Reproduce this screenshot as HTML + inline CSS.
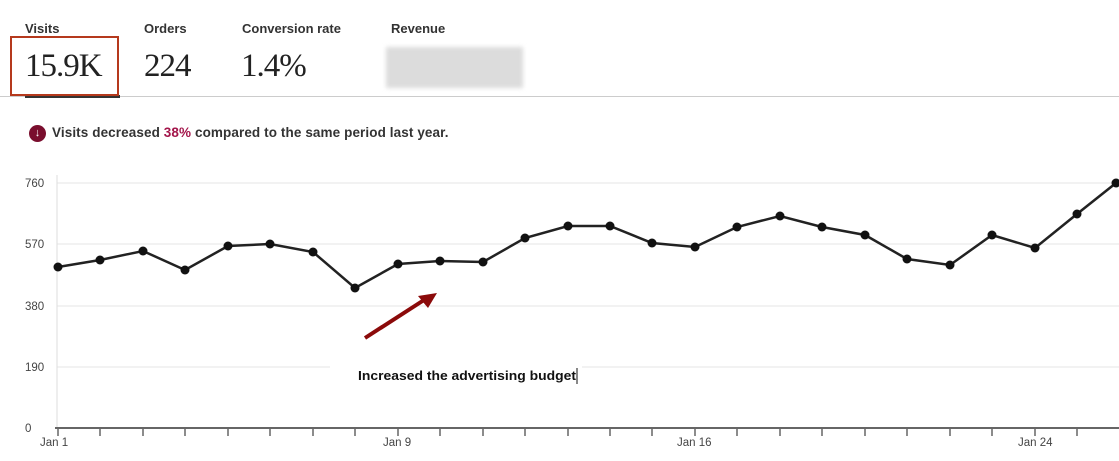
<!DOCTYPE html>
<html><head><meta charset="utf-8"><style>
body{margin:0;width:1119px;height:461px;background:#fff;overflow:hidden;position:relative;font-family:"Liberation Sans",sans-serif}
.l{position:absolute;top:21px;font-size:13px;font-weight:bold;color:#333}
.v{position:absolute;top:48px;font-family:"Liberation Serif",serif;font-size:33px;color:#222;letter-spacing:-1px}
</style></head><body>
<div class="l" style="left:25px">Visits</div>
<div class="l" style="left:144px">Orders</div>
<div class="l" style="left:242px">Conversion rate</div>
<div class="l" style="left:391px">Revenue</div>
<div class="v" style="left:25px">15.9K</div>
<div class="v" style="left:144px">224</div>
<div class="v" style="left:241px">1.4%</div>
<div style="position:absolute;left:386px;top:47px;width:137px;height:41px;background:#dcdcdc;filter:blur(2px)"></div>
<div style="position:absolute;left:0;top:96px;width:1119px;height:1px;background:#ccc"></div>
<div style="position:absolute;left:25px;top:95px;width:95px;height:3px;background:#333"></div>
<div style="position:absolute;left:10px;top:36px;width:105px;height:56px;border:2px solid #b5391d"></div>
<div style="position:absolute;left:29px;top:125px;width:17px;height:17px;border-radius:50%;background:#7a0e2e;color:#fff;font-size:11px;text-align:center;line-height:17px">↓</div>
<div style="position:absolute;left:52px;top:125px;font-size:13.5px;font-weight:bold;color:#333;letter-spacing:0.1px">Visits decreased <span style="color:#a3154a">38%</span> compared to the same period last year.</div>
<svg width="1119" height="461" style="position:absolute;left:0;top:0" font-family="Liberation Sans" font-size="11.5" fill="#444">
<g stroke="#e6e6e6" stroke-width="1">
<line x1="57" y1="183" x2="1119" y2="183"/><line x1="57" y1="244" x2="1119" y2="244"/><line x1="57" y1="306" x2="1119" y2="306"/><line x1="57" y1="367" x2="1119" y2="367"/>
</g>
<line x1="57" y1="175" x2="57" y2="428" stroke="#ddd"/>
<text x="25" y="187">760</text><text x="25" y="248">570</text><text x="25" y="310">380</text><text x="25" y="371">190</text><text x="25" y="432">0</text>
<line x1="55" y1="428" x2="1119" y2="428" stroke="#666" stroke-width="2"/>
<text x="40" y="446">Jan 1</text><text x="383" y="446">Jan 9</text><text x="677" y="446">Jan 16</text><text x="1018" y="446">Jan 24</text>
<polyline fill="none" stroke="#222" stroke-width="2.5" points="58,267 100,260 143,251 185,270 228,246 270,244 313,252 355,288 398,264 440,261 483,262 525,238 568,226 610,226 652,243 695,247 737,227 780,216 822,227 865,235 907,259 950,265 992,235 1035,248 1077,214 1116,183"/>
<g fill="#111">
<circle cx="58" cy="267" r="4.5"/><circle cx="100" cy="260" r="4.5"/><circle cx="143" cy="251" r="4.5"/><circle cx="185" cy="270" r="4.5"/><circle cx="228" cy="246" r="4.5"/><circle cx="270" cy="244" r="4.5"/><circle cx="313" cy="252" r="4.5"/><circle cx="355" cy="288" r="4.5"/><circle cx="398" cy="264" r="4.5"/><circle cx="440" cy="261" r="4.5"/><circle cx="483" cy="262" r="4.5"/><circle cx="525" cy="238" r="4.5"/><circle cx="568" cy="226" r="4.5"/><circle cx="610" cy="226" r="4.5"/><circle cx="652" cy="243" r="4.5"/><circle cx="695" cy="247" r="4.5"/><circle cx="737" cy="227" r="4.5"/><circle cx="780" cy="216" r="4.5"/><circle cx="822" cy="227" r="4.5"/><circle cx="865" cy="235" r="4.5"/><circle cx="907" cy="259" r="4.5"/><circle cx="950" cy="265" r="4.5"/><circle cx="992" cy="235" r="4.5"/><circle cx="1035" cy="248" r="4.5"/><circle cx="1077" cy="214" r="4.5"/><circle cx="1116" cy="183" r="4.5"/>
</g>
<g stroke="#666" stroke-width="1.5">
<line x1="58" y1="428" x2="58" y2="436"/><line x1="100" y1="428" x2="100" y2="436"/><line x1="143" y1="428" x2="143" y2="436"/><line x1="185" y1="428" x2="185" y2="436"/><line x1="228" y1="428" x2="228" y2="436"/><line x1="270" y1="428" x2="270" y2="436"/><line x1="313" y1="428" x2="313" y2="436"/><line x1="355" y1="428" x2="355" y2="436"/><line x1="398" y1="428" x2="398" y2="436"/><line x1="440" y1="428" x2="440" y2="436"/><line x1="483" y1="428" x2="483" y2="436"/><line x1="525" y1="428" x2="525" y2="436"/><line x1="568" y1="428" x2="568" y2="436"/><line x1="610" y1="428" x2="610" y2="436"/><line x1="652" y1="428" x2="652" y2="436"/><line x1="695" y1="428" x2="695" y2="436"/><line x1="737" y1="428" x2="737" y2="436"/><line x1="780" y1="428" x2="780" y2="436"/><line x1="822" y1="428" x2="822" y2="436"/><line x1="865" y1="428" x2="865" y2="436"/><line x1="907" y1="428" x2="907" y2="436"/><line x1="950" y1="428" x2="950" y2="436"/><line x1="992" y1="428" x2="992" y2="436"/><line x1="1035" y1="428" x2="1035" y2="436"/><line x1="1077" y1="428" x2="1077" y2="436"/>
</g>
<rect x="330" y="360" width="252" height="26" fill="#fff"/>
<line x1="365" y1="338" x2="424" y2="300" stroke="#8b0a0a" stroke-width="4"/>
<polygon points="437,293 418,296 428,308" fill="#8b0a0a"/>
<text x="358" y="380" font-size="12.5" font-weight="bold" fill="#111" textLength="218" lengthAdjust="spacingAndGlyphs">Increased the advertising budget</text>
<line x1="577" y1="368" x2="577" y2="384" stroke="#111"/>
</svg>
</body></html>
